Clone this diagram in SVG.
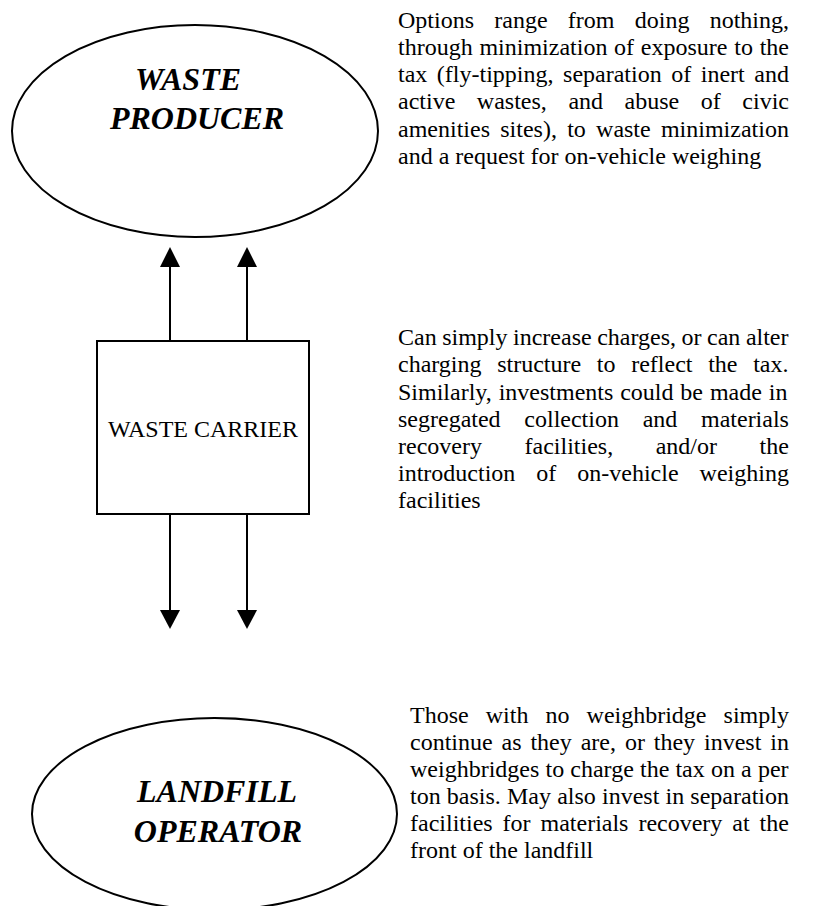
<svg xmlns="http://www.w3.org/2000/svg" width="817" height="906" viewBox="0 0 817 906">
<style>
  .shape { fill: #fff; stroke: #000; stroke-width: 2; }
  .title { font-family: "Liberation Serif", "Times New Roman", serif; font-size: 32px; font-weight: bold; font-style: italic; fill: #000; text-anchor: middle; }
  .lbl { font-family: "Liberation Serif", "Times New Roman", serif; font-size: 24px; fill: #000; }
  .body { font-family: "Liberation Serif", "Times New Roman", serif; font-size: 24px; fill: #000; }
  .conn line { stroke: #000; stroke-width: 2; }
  .conn polygon { fill: #000; }
</style>
<rect width="817" height="906" fill="#fff"/>

<g id="waste-producer">
  <ellipse class="shape" cx="195" cy="131" rx="183" ry="106"/>
  <text class="title" x="188" y="90">WASTE</text>
  <text class="title" x="197" y="129">PRODUCER</text>
</g>

<g id="waste-carrier">
  <rect class="shape" x="97" y="341" width="212" height="173"/>
  <text class="lbl" x="203" y="437" text-anchor="middle">WASTE CARRIER</text>
</g>

<g id="landfill-operator">
  <ellipse class="shape" cx="214.5" cy="814" rx="182.5" ry="96"/>
  <text class="title" x="217" y="802">LANDFILL</text>
  <text class="title" x="218" y="842">OPERATOR</text>
</g>

<g id="connectors" class="conn">
  <line x1="170" y1="341" x2="170" y2="266"/>
  <polygon points="170,247 160,267 180,267"/>
  <line x1="247" y1="341" x2="247" y2="266"/>
  <polygon points="247,247 237,267 257,267"/>
  <line x1="170" y1="514" x2="170" y2="611"/>
  <polygon points="170,629 160,610 180,610"/>
  <line x1="247" y1="514" x2="247" y2="611"/>
  <polygon points="247,629 237,610 257,610"/>
</g>

<g id="note-producer" class="body">
  <text x="398" y="28" word-spacing="14.25">Options range from doing nothing,</text>
  <text x="398" y="55" word-spacing="0.74">through minimization of exposure to the</text>
  <text x="398" y="82" word-spacing="3.54">tax (fly-tipping, separation of inert and</text>
  <text x="398" y="109" word-spacing="15.55">active wastes, and abuse of civic</text>
  <text x="398" y="137" word-spacing="4.25">amenities sites), to waste minimization</text>
  <text x="398" y="164">and a request for on-vehicle weighing</text>
</g>

<g id="note-carrier" class="body">
  <text x="398" y="345" word-spacing="-0.48">Can simply increase charges, or can alter</text>
  <text x="398" y="372" word-spacing="9.68">charging structure to reflect the tax.</text>
  <text x="398" y="400" word-spacing="0.87">Similarly, investments could be made in</text>
  <text x="398" y="427" word-spacing="17.7">segregated collection and materials</text>
  <text x="398" y="454" word-spacing="36.57">recovery facilities, and/or the</text>
  <text x="398" y="481" word-spacing="15">introduction of on-vehicle weighing</text>
  <text x="398" y="508">facilities</text>
</g>

<g id="note-landfill" class="body">
  <text x="410" y="723" word-spacing="11.08">Those with no weighbridge simply</text>
  <text x="410" y="750" word-spacing="2.91">continue as they are, or they invest in</text>
  <text x="410" y="777" word-spacing="0.16">weighbridges to charge the tax on a per</text>
  <text x="410" y="804" word-spacing="0.17">ton basis. May also invest in separation</text>
  <text x="410" y="831" word-spacing="3.94">facilities for materials recovery at the</text>
  <text x="410" y="858">front of the landfill</text>
</g>
</svg>
